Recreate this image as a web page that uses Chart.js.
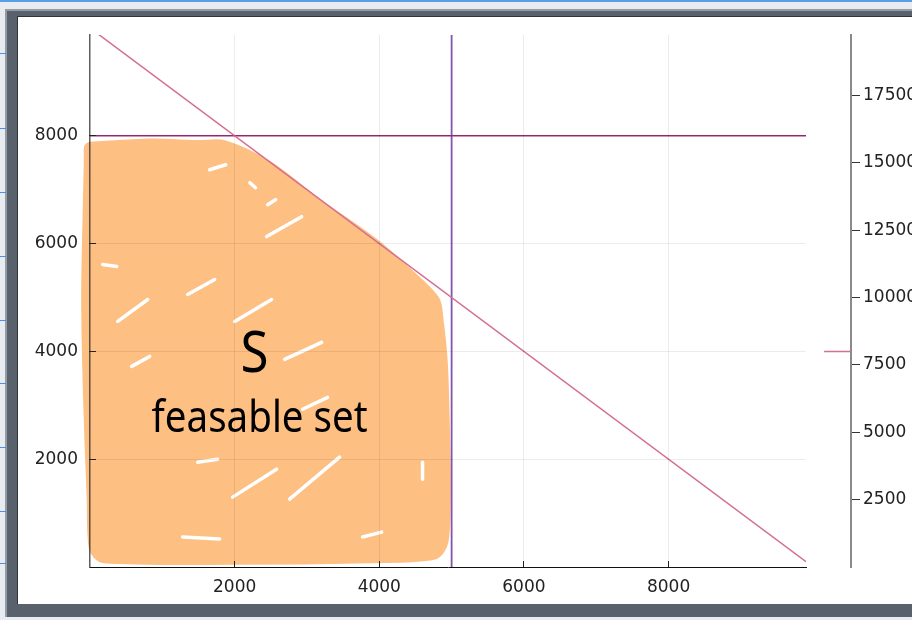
<!DOCTYPE html>
<html>
<head>
<meta charset="utf-8">
<script src="https://cdn.jsdelivr.net/npm/chart.js@4/dist/chart.umd.min.js"></script>
<style>
  body { margin: 0; width: 912px; height: 620px; overflow: hidden; background: #e8ecf0; position: relative; }
  #topline { position: absolute; left: 0; top: 0; width: 912px; height: 2px; background: #5a9ee6; }
  .mark { position: absolute; left: 0; width: 6px; height: 1px; background: #4a90e2; }
  #frame { position: absolute; left: 5px; top: 9px; width: 920px; height: 608px; box-sizing: border-box;
           background: #59626c; border-top: 2px solid #939ca5; border-left: 2px solid #939ca5; }
  #panel { position: absolute; left: 10px; top: 5px; right: 0; bottom: 13px; background: #fff;
           border-top: 1px solid #2e343a; border-left: 1px solid #2e343a; }
  #chart { position: absolute; left: 0; top: 0; }
</style>
</head>
<body>
<div id="topline"></div>
<div id="frame"><div id="panel"></div></div>
<canvas id="chart" width="912" height="620"></canvas>
<script>
// значения осей
const X_TICKS = [2000, 4000, 6000, 8000];
const Y_TICKS = [2000, 4000, 6000, 8000];
const Y2_TICKS = [2500, 5000, 7500, 10000, 12500, 15000, 17500];

// ограничения
const budgetX = [100, 9900];      // x + y = 10000
const budgetY = [9900, 100];
const capX = [0, 9900];           // y = 8000
const capY = [8000, 8000];
const limitX = [5000, 5000];      // x = 5000
const limitY = [0, 9870];
const twinX = [10150, 10520];     // короткий отрезок на второй оси
const twinY = [8000, 8000];

// нарисованное от руки допустимое множество S
const feasibleX = [10, 825, 1516, 1850, 2440, 3130, 3900, 4360, 4740, 4790, 4850, 4880, 4890, 4860, 4740, 3866, 2028, 200, 80, 50, 0, -25, 0, 10, 10];
const feasibleY = [7760, 7820, 7790, 7790, 7420, 6720, 5990, 5450, 4940, 4600, 3796, 2556, 1315, 480, 260, 200, 170, 200, 360, 1315, 3167, 5019, 6870, 7450, 7760];

// белые просветы в штриховке (пары точек, null = разрыв)
const scratchX = [1654, 1876, null, 2211, 2289, null, 2456, 2566, null, 2443, 2926, null, 176, 369, null,
                  1350, 1724, null, 383, 798, null, 2000, 2511, null, 576, 825, null, 2691, 3202, null,
                  2940, 3285, null, 1489, 1765, null, 1972, 2580, null, 2760, 3451, null, 1281, 1793, null,
                  3769, 4032, null, 4598, 4598];
const scratchY = [7370, 7463, null, 7130, 7037, null, 6722, 6815, null, 6130, 6500, null, 5611, 5574, null,
                  5056, 5333, null, 4556, 4963, null, 4556, 4963, null, 3722, 3907, null, 3852, 4167, null,
                  2926, 3148, null, 1944, 2000, null, 1296, 1815, null, 1259, 2037, null, 556, 519, null,
                  556, 648, null, 1944, 1630];

// синие метки слева от окна
[53, 128, 192, 256, 320, 383, 447, 511, 563].forEach(top => {
    const m = document.createElement('div');
    m.className = 'mark';
    m.style.top = top + 'px';
    document.body.appendChild(m);
});

const toPoints = (xs, ys) => xs.map((x, i) => ({ x: x === null ? 0 : x, y: ys[i] }));
const fixTicks = list => scale => { scale.ticks = list.map(v => ({ value: v })); };
const plainLabel = v => String(v);

// подпись внутри множества
const labelPlugin = {
    id: 'feasibleLabel',
    afterDatasetsDraw(chart) {
        const { ctx, scales: { x, y } } = chart;
        const drawFit = (text, vx, vy, size, width) => {
            ctx.save();
            ctx.font = size + 'px "Noto Sans"';
            ctx.fillStyle = '#000';
            ctx.textAlign = 'center';
            ctx.textBaseline = 'alphabetic';
            const w = ctx.measureText(text).width;
            ctx.translate(x.getPixelForValue(vx), y.getPixelForValue(vy));
            ctx.scale(width / w, 1);
            ctx.fillText(text, 0, 0);
            ctx.restore();
        };
        drawFit('S', 2276, 3610, 56, 28);
        drawFit('feasable set', 2345, 2500, 44, 216);
    }
};

const axisFont = { family: 'DejaVu Sans', size: 17 };
const gridColor = 'rgba(0,0,0,0.075)';
const blobColor = '#fdbf82';

new Chart(document.getElementById('chart'), {
    type: 'line',
    data: {
        datasets: [
            { data: toPoints(budgetX, budgetY), borderColor: 'rgb(212,112,142)', borderWidth: 1.5 },
            { data: toPoints(capX, capY), borderColor: 'rgb(160,40,122)', borderWidth: 1.5 },
            { data: toPoints(limitX, limitY), borderColor: 'rgb(132,84,172)', borderWidth: 1.8 },
            { data: toPoints(twinX, twinY), yAxisID: 'y2', borderColor: 'rgb(212,112,142)', borderWidth: 1.5, clip: false },
            { data: toPoints(scratchX, scratchY), borderColor: '#ffffff', borderWidth: 3.5,
              borderCapStyle: 'round', spanGaps: false },
            { data: toPoints(feasibleX, feasibleY), borderWidth: 14, borderColor: blobColor,
              borderJoinStyle: 'round', borderCapStyle: 'round',
              backgroundColor: blobColor, fill: 'shape', tension: 0.3, clip: false }
        ]
    },
    options: {
        responsive: false,
        animation: false,
        layout: { padding: { top: 35, left: 0, right: 0, bottom: 0 } },
        elements: { point: { radius: 0 }, line: { tension: 0 } },
        plugins: { legend: { display: false }, tooltip: { enabled: false } },
        scales: {
            x: {
                type: 'linear', position: 'bottom', min: 0, max: 9900,
                afterBuildTicks: fixTicks(X_TICKS),
                afterFit: s => { s.height = 53; },
                grid: { color: gridColor, tickLength: -6, tickColor: '#222', z: 1 },
                border: { color: '#111', width: 1, z: 1 },
                ticks: { padding: 16, color: '#222', font: axisFont, callback: plainLabel, z: 1 }
            },
            y: {
                type: 'linear', position: 'left', min: 0, max: 9870,
                afterBuildTicks: fixTicks(Y_TICKS),
                afterFit: s => { s.width = 90; },
                grid: { color: gridColor, tickLength: -6, tickColor: '#222', z: 1 },
                border: { color: 'rgba(40,40,40,0.75)', width: 1.5, z: 1 },
                ticks: { padding: 18, color: '#222', font: axisFont, callback: plainLabel, z: 1 }
            },
            gap: {
                type: 'linear', axis: 'y', position: 'right', weight: 0,
                grid: { display: false }, border: { display: false }, ticks: { display: false },
                afterFit: s => { s.width = 45; }
            },
            y2: {
                type: 'linear', position: 'right', weight: 1, min: 0, max: 19750,
                afterBuildTicks: fixTicks(Y2_TICKS),
                afterFit: s => { s.width = 61; },
                grid: { drawOnChartArea: false, tickLength: 9, tickColor: '#333' },
                border: { color: '#8a8a8a', width: 2 },
                ticks: { padding: 3, color: '#222', font: axisFont, callback: plainLabel }
            }
        }
    },
    plugins: [labelPlugin]
});
</script>
</body>
</html>
